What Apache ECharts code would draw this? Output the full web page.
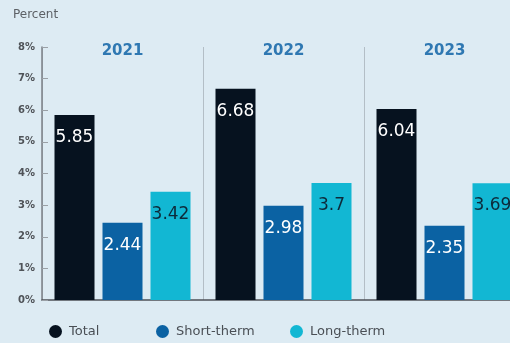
<!DOCTYPE html>
<html>
<head>
<meta charset="utf-8">
<script src="https://cdn.jsdelivr.net/npm/echarts@6/dist/echarts.min.js"></script>
<style>
  html, body { margin: 0; padding: 0; background: #ddebf3; }
  #chart { width: 510px; height: 343px; }
</style>
</head>
<body>
<div id="chart"></div>
<script>
// Years shown as the three groups
const years = ['2021', '2022', '2023'];
// Rates per year, in percent
const totalRate = [5.85, 6.68, 6.04];
const shortTermRate = [2.44, 2.98, 2.35];
const longTermRate = [3.42, 3.70, 3.69];
// Y axis range and step, in percent
const yMin = 0;
const yMax = 8;
const yStep = 1;

const seriesNames = ['Total', 'Short-therm', 'Long-therm'];
const seriesColors = ['#06121f', '#0b62a3', '#12b7d3'];
const labelColors = ['#ffffff', '#ffffff', '#0d2a3a'];
const seriesData = [totalRate, shortTermRate, longTermRate];
// left edge of each legend entry, in pixels
const legendLefts = [49, 156, 290];

const chart = echarts.init(document.getElementById('chart'), null, { renderer: 'canvas' });

const series = seriesData.map((values, i) => ({
  name: seriesNames[i],
  type: 'bar',
  xAxisIndex: 0,
  data: values,
  barWidth: 40,
  barGap: '20%',
  itemStyle: { color: seriesColors[i] },
  label: {
    show: true,
    position: 'insideTop',
    distance: 14,
    color: labelColors[i],
    fontFamily: 'DejaVu Sans',
    fontSize: 17,
    formatter: p => String(p.value)
  }
}));

// one legend component per entry so each sits at its own spot
const legends = seriesNames.map((name, i) => ({
  left: legendLefts[i],
  top: 325,
  padding: 0,
  itemWidth: 17,
  itemHeight: 13,
  icon: 'circle',
  data: [name],
  textStyle: { color: '#4a4f55', fontSize: 13, fontFamily: 'DejaVu Sans' }
}));

chart.setOption({
  backgroundColor: '#ddebf3',
  animation: false,
  title: {
    text: 'Percent',
    left: 13,
    top: 9,
    padding: 0,
    textStyle: { color: '#5d6166', fontSize: 12, fontWeight: 'normal', fontFamily: 'DejaVu Sans' }
  },
  legend: legends,
  // the plot runs past the right edge of the canvas, so the last bar is clipped
  grid: { left: 42, width: 483, top: 47, bottom: 43, outerBoundsMode: 'none', containLabel: false },
  xAxis: [
    {
      type: 'category',
      data: years,
      position: 'bottom',
      axisLine: { show: true, lineStyle: { color: '#4d5258', width: 1.5 } },
      axisTick: { show: false },
      axisLabel: { show: false },
      splitLine: { show: true, lineStyle: { color: '#b3bec6', width: 1 } }
    },
    {
      type: 'category',
      data: years,
      position: 'top',
      offset: -20,
      axisLine: { show: false },
      axisTick: { show: false },
      axisLabel: {
        show: true,
        margin: 8,
        color: '#2f78b2',
        fontSize: 15,
        fontWeight: 'bold',
        fontFamily: 'DejaVu Sans'
      }
    }
  ],
  yAxis: {
    type: 'value',
    min: yMin,
    max: yMax,
    interval: yStep,
    axisLine: { show: true, lineStyle: { color: '#7b8087', width: 1.5 } },
    axisTick: { show: true, inside: true, length: 6, lineStyle: { color: '#9aa0a6' } },
    axisLabel: {
      formatter: '{value}%',
      margin: 7,
      color: '#4f5358',
      fontSize: 10,
      fontWeight: 'bold',
      fontFamily: 'DejaVu Sans'
    },
    splitLine: { show: false }
  },
  series: series
});
</script>
</body>
</html>
